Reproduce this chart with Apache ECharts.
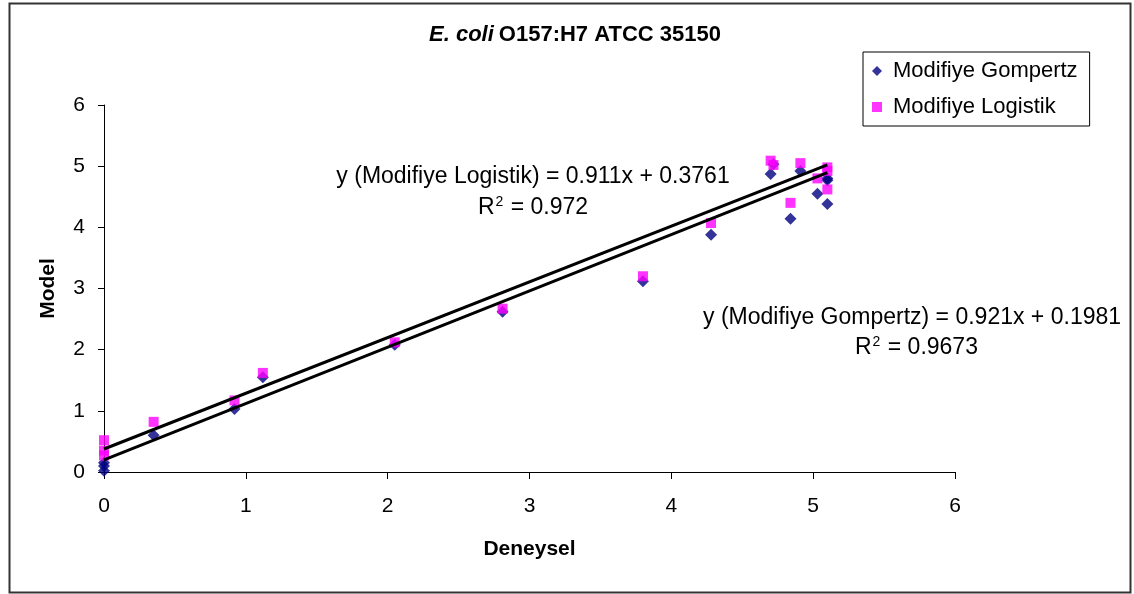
<!DOCTYPE html>
<html>
<head>
<meta charset="utf-8">
<script src="https://cdn.jsdelivr.net/npm/echarts@6/dist/echarts.min.js"></script>
<style>
  html, body { margin: 0; padding: 0; background: #fff; }
  #chart { width: 1134px; height: 594px; }
</style>
</head>
<body>
<div id="chart"></div>
<script>
// Measured (Deneysel) values and model predictions
const deneysel  = [0, 0, 0, 0.35, 0.92, 1.12, 2.05, 2.81, 3.80, 4.28, 4.70, 4.72, 4.91, 4.84, 5.03, 5.10, 5.10, 5.10];
const gompertz  = [0.02, 0.10, 0.15, 0.60, 1.03, 1.55, 2.08, 2.62, 3.12, 3.88, 4.87, 5.03, 4.92, 4.14, 4.55, 4.80, 4.77, 4.38];
const logistik  = [0.27, 0.35, 0.52, 0.82, 1.17, 1.62, 2.12, 2.67, 3.20, 4.07, 5.09, 5.02, 5.05, 4.40, 4.80, 4.98, 4.92, 4.62];

// Linear fits reported on the chart
const fitGompertz = { slope: 0.921, intercept: 0.1981, r2: '0.9673' };
const fitLogistik = { slope: 0.911, intercept: 0.3761, r2: '0.972' };

const axisTicks = [0, 1, 2, 3, 4, 5, 6];
const FONT = 'Liberation Sans, Arial, sans-serif';

const pairs = (xs, ys) => xs.map((x, i) => [x, ys[i]]);
const xMin = Math.min(...deneysel), xMax = Math.max(...deneysel);
const fitLine = f => [[xMin, f.slope * xMin + f.intercept], [xMax, f.slope * xMax + f.intercept]];
const eqText = (name, f) => 'y (' + name + ') = ' + f.slope + 'x + ' + f.intercept;

const diamond = 'path://M0,-1L1,0L0,1L-1,0Z';

const r2Rich = {
  t: { fontFamily: FONT, fontSize: 23, color: '#000', lineHeight: 26 },
  s: { fontFamily: FONT, fontSize: 14, color: '#000', lineHeight: 26, verticalAlign: 'top', padding: [0, 1, 0, 1] }
};

const chart = echarts.init(document.getElementById('chart'), null, { renderer: 'canvas' });
chart.setOption({
  animation: false,
  backgroundColor: '#fff',
  title: {
    text: '{i|E. coli} {b|O157:H7 ATCC 35150}',
    left: 570, top: 19, textAlign: 'center',
    textStyle: {
      rich: {
        i: { fontFamily: FONT, fontSize: 22, fontWeight: 'bold', fontStyle: 'italic', color: '#000' },
        b: { fontFamily: FONT, fontSize: 22, fontWeight: 'bold', color: '#000' }
      }
    }
  },
  legend: {
    left: 863, top: 52,
    orient: 'vertical',
    padding: [8, 12, 8, 9],
    itemGap: 14,
    itemWidth: 10, itemHeight: 10,
    borderColor: '#000', borderWidth: 1,
    textStyle: { fontFamily: FONT, fontSize: 22, color: '#000', padding: [0, 0, 0, 6] },
    data: ['Modifiye Gompertz', 'Modifiye Logistik']
  },
  grid: { left: 104, right: 179, top: 105, bottom: 122 },
  xAxis: {
    type: 'value', min: axisTicks[0], max: axisTicks[axisTicks.length - 1], interval: 1,
    name: 'Deneysel', nameLocation: 'middle', nameGap: 67,
    nameTextStyle: { fontFamily: FONT, fontSize: 21, fontWeight: 'bold', color: '#000' },
    axisLine: { lineStyle: { color: '#000', width: 1 } },
    axisTick: { show: true, length: 7, lineStyle: { color: '#000' } },
    axisLabel: { fontFamily: FONT, fontSize: 21, color: '#000', margin: 24 },
    splitLine: { show: false }
  },
  yAxis: {
    type: 'value', min: axisTicks[0], max: axisTicks[axisTicks.length - 1], interval: 1,
    name: 'Model', nameLocation: 'middle', nameGap: 45,
    nameTextStyle: { fontFamily: FONT, fontSize: 21, fontWeight: 'bold', color: '#000' },
    axisLine: { show: true, lineStyle: { color: '#000', width: 1 } },
    axisTick: { show: true, length: 6, lineStyle: { color: '#000' } },
    axisLabel: { fontFamily: FONT, fontSize: 21, color: '#000', margin: 19 },
    splitLine: { show: false }
  },
  series: [
    {
      name: 'Modifiye Gompertz', type: 'scatter', z: 2,
      symbol: diamond, symbolSize: 12,
      itemStyle: { color: '#000080' },
      data: pairs(deneysel, gompertz)
    },
    {
      name: 'Modifiye Logistik', type: 'scatter', z: 3,
      symbol: 'rect', symbolSize: 10,
      itemStyle: { color: '#FF00FF' },
      data: pairs(deneysel, logistik)
    },
    {
      name: 'fit-gompertz', type: 'line', z: 4, symbol: 'none', silent: true,
      lineStyle: { color: '#000', width: 3 },
      data: fitLine(fitGompertz)
    },
    {
      name: 'fit-logistik', type: 'line', z: 4, symbol: 'none', silent: true,
      lineStyle: { color: '#000', width: 3 },
      data: fitLine(fitLogistik)
    }
  ],
  graphic: [
    {
      type: 'rect', left: 7, top: 1, silent: true,
      shape: { width: 1121, height: 589 },
      style: { fill: 'none', stroke: '#333', lineWidth: 2 }
    },
    {
      type: 'text', x: 533, y: 177,
      style: {
        text: eqText('Modifiye Logistik', fitLogistik),
        font: '23px ' + FONT, fill: '#000', align: 'center', verticalAlign: 'middle'
      }
    },
    {
      type: 'text', x: 533, y: 208,
      style: {
        text: '{t|R}{s|2}{t| = ' + fitLogistik.r2 + '}',
        rich: r2Rich, align: 'center', verticalAlign: 'middle'
      }
    },
    {
      type: 'text', x: 703, y: 318,
      style: {
        text: eqText('Modifiye Gompertz', fitGompertz),
        font: '23px ' + FONT, fill: '#000', align: 'left', verticalAlign: 'middle'
      }
    },
    {
      type: 'text', x: 855, y: 348,
      style: {
        text: '{t|R}{s|2}{t| = ' + fitGompertz.r2 + '}',
        rich: r2Rich, align: 'left', verticalAlign: 'middle'
      }
    }
  ]
});
</script>
</body>
</html>
